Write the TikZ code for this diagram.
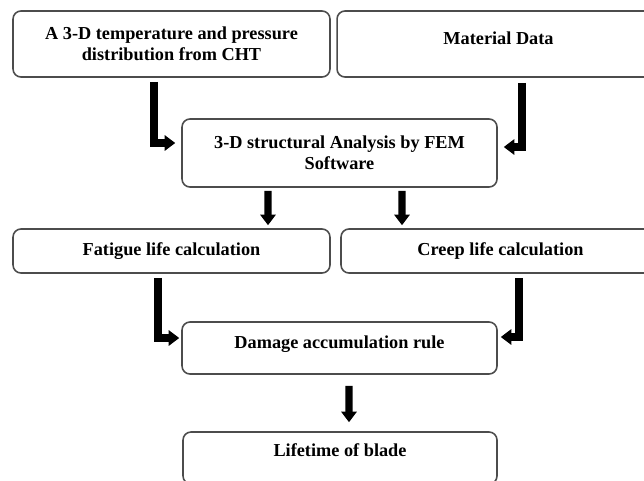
\documentclass[tikz,border=0pt]{standalone}
\usepackage{fontspec}
\setmainfont{Liberation Serif}
\usepackage{tikz}
\usetikzlibrary{arrows.meta, positioning, calc}

\begin{document}
\begin{tikzpicture}[
        x=0.02cm, y=-0.02cm,
        box/.style={rectangle, rounded corners=4.5pt, draw=black!70, line width=0.9pt, fill=white, align=center,
            font=\bfseries\fontsize{10.4}{12}\selectfont},
        single/.style={text height=7.5pt, text depth=#1},
        single/.default=2.5pt,
        flow/.style={draw, line width=4pt, line join=miter, -{Triangle[length=6pt, width=8.6pt]}}
    ]
        \clip (0,0) rectangle (644,480);

        % Inputs
        \node[box, minimum width=6.34cm, minimum height=1.32cm] (cht) at (171.5,44) {A 3-D temperature and pressure\\distribution from CHT};
        \node[box, single=7pt, minimum width=6.46cm, minimum height=1.32cm] (mat) at (498.5,44) {Material Data};

        % Structural analysis
        \node[box, minimum width=6.3cm, minimum height=1.36cm] (fem) at (339.5,153) {3-D structural Analysis by FEM\\Software};

        % Life calculations
        \node[box, single, minimum width=6.34cm, minimum height=0.88cm] (fatigue) at (171.5,251) {Fatigue life calculation};
        \node[box, single, minimum width=6.38cm, minimum height=0.88cm] (creep) at (500.5,251) {Creep life calculation};

        % Damage and lifetime
        \node[box, single=7pt, minimum width=6.3cm, minimum height=1.04cm] (damage) at (339.5,348) {Damage accumulation rule};
        \node[box, single=9.3pt, minimum width=6.28cm, minimum height=1.04cm] (life) at (340,458) {Lifetime of blade};

        % Arrows into FEM
        \draw[flow] ($(cht.south)+(-17.5,4)$) |- ($(fem.west)+(-6,-10)$);
        \draw[flow] ($(mat.south)+(23.5,5)$) |- ($(fem.east)+(6,-6)$);

        % Arrows to life calculations
        \draw[flow] ($(fem.south)+(-71.5,3)$) -- ($(fatigue.north)+(96.5,-3)$);
        \draw[flow] ($(fem.south)+(62.5,3)$) -- ($(creep.north)+(-98.5,-3)$);

        % Arrows into damage rule
        \draw[flow] ($(fatigue.south)+(-13.5,4)$) |- ($(damage.west)+(-2,-10)$);
        \draw[flow] ($(creep.south)+(18.5,4)$) |- ($(damage.east)+(3,-11)$);

        % Final output
        \draw[flow] ($(damage.south)+(9.5,11)$) -- ($(life.north)+(9,-9)$);
    \end{tikzpicture}
\end{document}
